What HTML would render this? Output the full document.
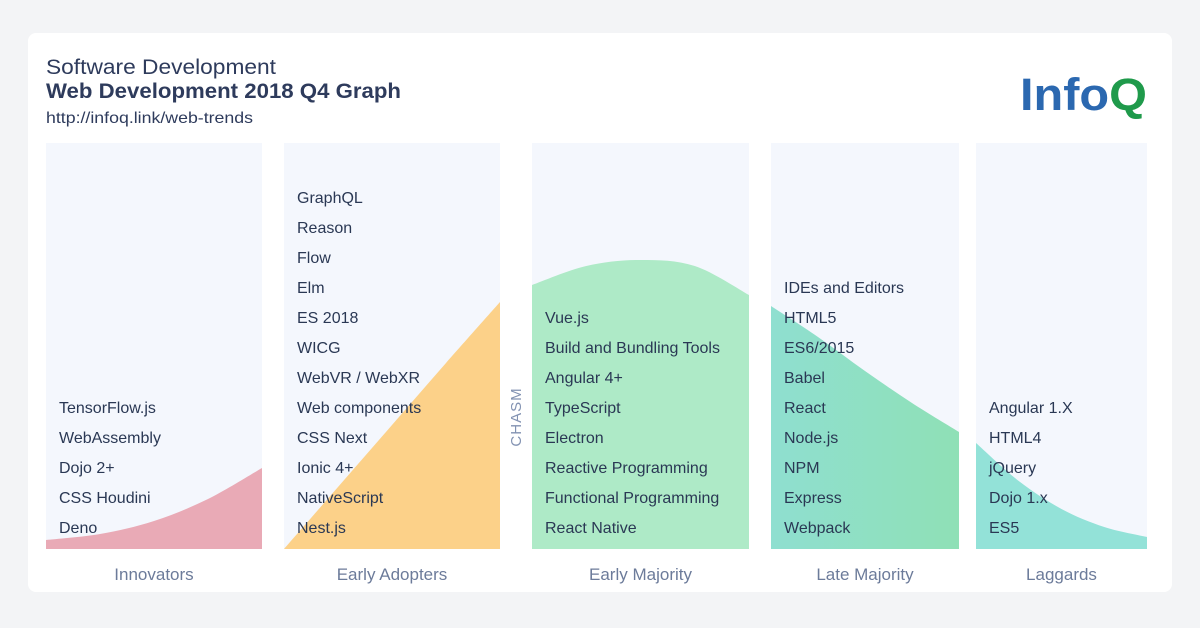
<!DOCTYPE html>
<html><head><meta charset="utf-8"><style>
html,body{margin:0;padding:0;background:#f3f4f6;}
svg{display:block;font-family:"Liberation Sans",sans-serif;}
</style></head><body>
<svg width="1200" height="628" viewBox="0 0 1200 628">
<defs>
<linearGradient id="lmGrad" x1="0" x2="1" y1="0" y2="0"><stop offset="0" stop-color="#8fdfd0"/><stop offset="1" stop-color="#8fe0b6"/></linearGradient>
</defs>
<rect x="0" y="0" width="1200" height="628" fill="#f3f4f6"/>
<rect x="28" y="33" width="1144" height="559" rx="8" fill="#ffffff"/>
<text x="46" y="74" font-size="21" fill="#2e3b5c" textLength="230" lengthAdjust="spacingAndGlyphs">Software Development</text>
<text x="46" y="98" font-size="21" font-weight="bold" fill="#2e3b5c" textLength="355" lengthAdjust="spacingAndGlyphs">Web Development 2018 Q4 Graph</text>
<text x="46" y="123" font-size="16" fill="#2e3b5c" textLength="207" lengthAdjust="spacingAndGlyphs">http://infoq.link/web-trends</text>
<text x="1020" y="110" font-size="45" font-weight="bold" textLength="127" lengthAdjust="spacingAndGlyphs"><tspan fill="#2b68b0">Info</tspan><tspan fill="#1f9a4b">Q</tspan></text>
<text transform="translate(521,417) rotate(-90)" font-size="15" fill="#8292b2" text-anchor="middle" letter-spacing="1">CHASM</text>
<g id="chart"></g>
</svg>
<script>
const categories = ["Innovators","Early Adopters","Early Majority","Late Majority","Laggards"];
const innovatorsItems = ["TensorFlow.js","WebAssembly","Dojo 2+","CSS Houdini","Deno"];
const earlyAdoptersItems = ["GraphQL","Reason","Flow","Elm","ES 2018","WICG","WebVR / WebXR","Web components","CSS Next","Ionic 4+","NativeScript","Nest.js"];
const earlyMajorityItems = ["Vue.js","Build and Bundling Tools","Angular 4+","TypeScript","Electron","Reactive Programming","Functional Programming","React Native"];
const lateMajorityItems = ["IDEs and Editors","HTML5","ES6/2015","Babel","React","Node.js","NPM","Express","Webpack"];
const laggardsItems = ["Angular 1.X","HTML4","jQuery","Dojo 1.x","ES5"];
const innovatorsCurve = [9,15,28,50,81];
const earlyAdoptersCurve = [0,62,124,186,247];
const earlyMajorityCurve = [264,283,289,283,254];
const lateMajorityCurve = [243,212,178,146,117];
const laggardsCurve = [106,68,40,22,12];

const NS="http://www.w3.org/2000/svg";
const chartG=document.getElementById('chart');
const panels=[[46,262],[284,500],[532,749],[771,959],[976,1147]];
const itemLists=[innovatorsItems,earlyAdoptersItems,earlyMajorityItems,lateMajorityItems,laggardsItems];
const curveLists=[innovatorsCurve,earlyAdoptersCurve,earlyMajorityCurve,lateMajorityCurve,laggardsCurve];
const fills=["#e9aab6","#fcd189","#aeeac7","url(#lmGrad)","#93e2d8"];
const panelTop=143,panelBottom=549;
function yScale(v){return panelBottom-v;}
function smoothPath(pts){
  let d="M"+pts[0][0]+","+pts[0][1];
  for(let i=0;i<pts.length-1;i++){
    const p0=pts[Math.max(i-1,0)],p1=pts[i],p2=pts[i+1],p3=pts[Math.min(i+2,pts.length-1)];
    const c1=[p1[0]+(p2[0]-p0[0])/6,p1[1]+(p2[1]-p0[1])/6];
    const c2=[p2[0]-(p3[0]-p1[0])/6,p2[1]-(p3[1]-p1[1])/6];
    d+=" C"+c1[0]+","+c1[1]+" "+c2[0]+","+c2[1]+" "+p2[0]+","+p2[1];
  }
  return d;
}
panels.forEach((p,k)=>{
  const x0=p[0],x1=p[1];
  const r=document.createElementNS(NS,'rect');
  r.setAttribute('x',x0);r.setAttribute('y',panelTop);r.setAttribute('width',x1-x0);r.setAttribute('height',panelBottom-panelTop);r.setAttribute('fill','#f4f7fd');
  
  
  chartG.appendChild(r);
  const c=curveLists[k];
  const pts=c.map((v,i)=>[x0+(x1-x0)*i/(c.length-1),yScale(v)]);
  const path=document.createElementNS(NS,'path');
  path.setAttribute('d',smoothPath(pts)+" L"+x1+","+panelBottom+" L"+x0+","+panelBottom+" Z");
  path.setAttribute('fill',fills[k]);
  
  
  chartG.appendChild(path);
  const list=itemLists[k];
  list.forEach((t,i)=>{
    const tx=document.createElementNS(NS,'text');
    tx.setAttribute('x',x0+13);
    tx.setAttribute('y',527-(list.length-1-i)*30+6);
    tx.setAttribute('font-size','16');
    tx.setAttribute('fill','#2a3854');
    tx.textContent=t;
    
    
    chartG.appendChild(tx);
  });
  const lb=document.createElementNS(NS,'text');
  lb.setAttribute('x',(x0+x1)/2);lb.setAttribute('y',580);lb.setAttribute('font-size','17');
  lb.setAttribute('fill','#6c7b9a');lb.setAttribute('text-anchor','middle');
  lb.textContent=categories[k];
  
  
  chartG.appendChild(lb);
});
</script>
</body></html>
